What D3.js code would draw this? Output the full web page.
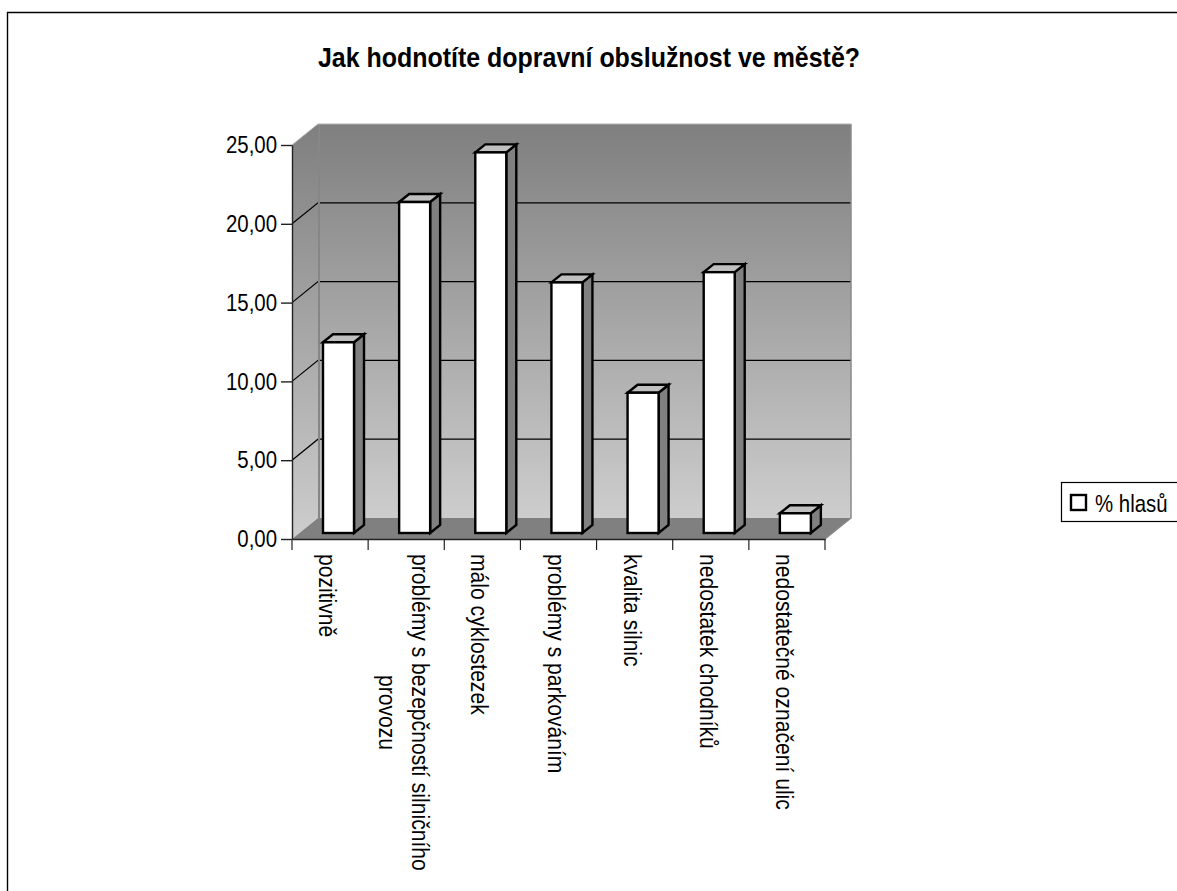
<!DOCTYPE html>
<html><head><meta charset="utf-8">
<script src="https://cdnjs.cloudflare.com/ajax/libs/d3/7.8.5/d3.min.js"></script>
<style>html,body{margin:0;padding:0;background:#fff;overflow:hidden}svg{display:block}
text{font-family:"Liberation Sans",Arial,sans-serif;fill:#000}</style></head><body>
<script>
const titleText = "Jak hodnotíte dopravní obslužnost ve městě?";
const seriesName = "% hlasů";
const categories = ["pozitivně","problémy s bezepčností silničního provozu","málo cyklostezek","problémy s parkováním","kvalita silnic","nedostatek chodníků","nedostatečné označení ulic"];
const categoryLines = [["pozitivně"],["problémy s bezepčností silničního","provozu"],["málo cyklostezek"],["problémy s parkováním"],["kvalita silnic"],["nedostatek chodníků"],["nedostatečné označení ulic"]];
const values = [12.1,21.0,24.15,15.9,8.9,16.55,1.25];
const yTicks = [0,5,10,15,20,25];

const W=1177,H=891;
const dx=26,dy=21;
const y=d3.scaleLinear().domain([0,25]).range([539,145]);
const x=d3.scaleBand().domain(categories).range([292,825]);
const svg=d3.select("body").append("svg").attr("width",W).attr("height",H);
const defs=svg.append("defs");
const g=defs.append("linearGradient").attr("id","wall").attr("x1",0).attr("y1",0).attr("x2",0).attr("y2",1);
g.append("stop").attr("offset",0).attr("stop-color","#7f7f7f");
g.append("stop").attr("offset",1).attr("stop-color","#cdcdcd");
const g2=defs.append("linearGradient").attr("id","side").attr("gradientUnits","userSpaceOnUse").attr("x1",0).attr("y1",y(25)-dy).attr("x2",0).attr("y2",y(0));
g2.append("stop").attr("offset",0).attr("stop-color","#7f7f7f");
g2.append("stop").attr("offset",1).attr("stop-color","#cdcdcd");

// frame
svg.append("path").attr("d",`M7.5,${H}V12.5H${W}`).attr("fill","none").attr("stroke","#000").attr("stroke-width",1.4);

const x0=x.range()[0],x1=x.range()[1],y0=y(0),yT=y(25);
const line=d3.line();
// walls and floor
svg.append("path").attr("d",line([[x0,y0],[x0,yT],[x0+dx,yT-dy],[x0+dx,y0-dy]])+"Z").attr("fill","url(#side)");
svg.append("rect").attr("x",x0+dx).attr("y",yT-dy).attr("width",x1-x0).attr("height",y0-yT).attr("fill","url(#wall)");
svg.append("path").attr("d",line([[x0,y0],[x0+dx,y0-dy],[x1+dx,y0-dy],[x1,y0]])+"Z").attr("fill","#808080");
// gridlines
yTicks.filter(t=>t>0&&t<25).forEach(t=>{
  svg.append("path").attr("d",line([[x0,y(t)],[x0+dx,y(t)-dy],[x1+dx,y(t)-dy]]))
    .attr("fill","none").attr("stroke","#000").attr("stroke-width",1.2);
});
// wall edges
svg.append("path").attr("d",line([[x0+dx+1,yT-dy],[x0+dx+1,y0-dy]])).attr("stroke","#868686").attr("stroke-width",2).attr("fill","none");
svg.append("path").attr("d",line([[x1+dx,yT-dy],[x1+dx,y0-dy],[x1,y0]])).attr("stroke","#8a8a8a").attr("stroke-width",1.5).attr("fill","none");
svg.append("path").attr("d",line([[x0,yT],[x0+dx,yT-dy],[x1+dx,yT-dy]])).attr("stroke","#b0b0b0").attr("stroke-width",1).attr("fill","none");

// axes
const ya=d3.axisLeft(y).tickValues(yTicks).tickSize(11).tickSizeOuter(0).tickFormat(d=>d3.format(".2f")(d).replace(".",","));
const yg=svg.append("g").attr("transform",`translate(${x0},0)`).call(ya);
yg.selectAll("path,line").attr("stroke","#222").attr("stroke-width",1.4);
yg.selectAll("text").attr("font-size",24).attr("x",0).attr("fill","#000")
  .attr("text-anchor","end").attr("transform","translate(-15,0) scale(.85,1)");
const xa=d3.axisBottom(x).tickSize(0).tickSizeOuter(0).tickFormat("");
const xg=svg.append("g").attr("transform",`translate(0,${y0})`).call(xa);
xg.selectAll("path").attr("stroke","#222").attr("stroke-width",1.4);
xg.selectAll(".tick").remove();
[...categories.map(c=>x(c)),x1].forEach(px=>{
  xg.append("line").attr("x1",px).attr("x2",px).attr("y1",0).attr("y2",11).attr("stroke","#222").attr("stroke-width",1.2);
});

// bars
const bw=31,bdx=10,bdy=8,offs=31;
const base=y0-6;
const barH=v=>y(0)-y(v);
const bars=svg.append("g").selectAll("g").data(categories).join("g");
bars.each(function(c,i){
  const s=d3.select(this), top=base-barH(values[i]);
  const L=x(c)+offs, R=L+bw;
  s.append("path").attr("d",line([[R,top],[R+bdx,top-bdy],[R+bdx,base-bdy],[R,base]])+"Z").attr("fill","#808080");
  s.append("path").attr("d",line([[L,top],[L+bdx,top-bdy],[R+bdx,top-bdy],[R,top]])+"Z").attr("fill","#c0c0c0");
  s.append("rect").attr("x",L).attr("y",top).attr("width",bw).attr("height",base-top).attr("fill","#fff");
  s.selectAll("path,rect").attr("stroke","#000").attr("stroke-width",2.4).attr("stroke-linejoin","miter");
});

// category labels, rotated
const lab=svg.append("g").attr("font-size",24);
categories.forEach((c,i)=>{
  const lines=categoryLines[i], px=x(c)+x.bandwidth()/2;
  lines.forEach((ln,j)=>{
    const tx = lines.length>1 ? px+6-j*33 : px-11;
    const ty = j===1 ? 675 : 554;
    lab.append("text").attr("transform",`translate(${tx},${ty}) rotate(90) scale(.88,1)`).text(ln);
  });
});

// title
svg.append("text").attr("x",318).attr("y",67).attr("font-size",27).attr("font-weight","bold").attr("textLength",542).attr("lengthAdjust","spacingAndGlyphs").text(titleText);

// legend
svg.append("rect").attr("x",1061.5).attr("y",482.5).attr("width",140).attr("height",39).attr("fill","#fff").attr("stroke","#000").attr("stroke-width",1.2);
svg.append("rect").attr("x",1071).attr("y",495).attr("width",15).attr("height",15).attr("fill","#fff").attr("stroke","#000").attr("stroke-width",2.4);
svg.append("text").attr("transform","translate(1095,512) scale(.85,1)").attr("font-size",24).text(seriesName);
</script></body></html>
